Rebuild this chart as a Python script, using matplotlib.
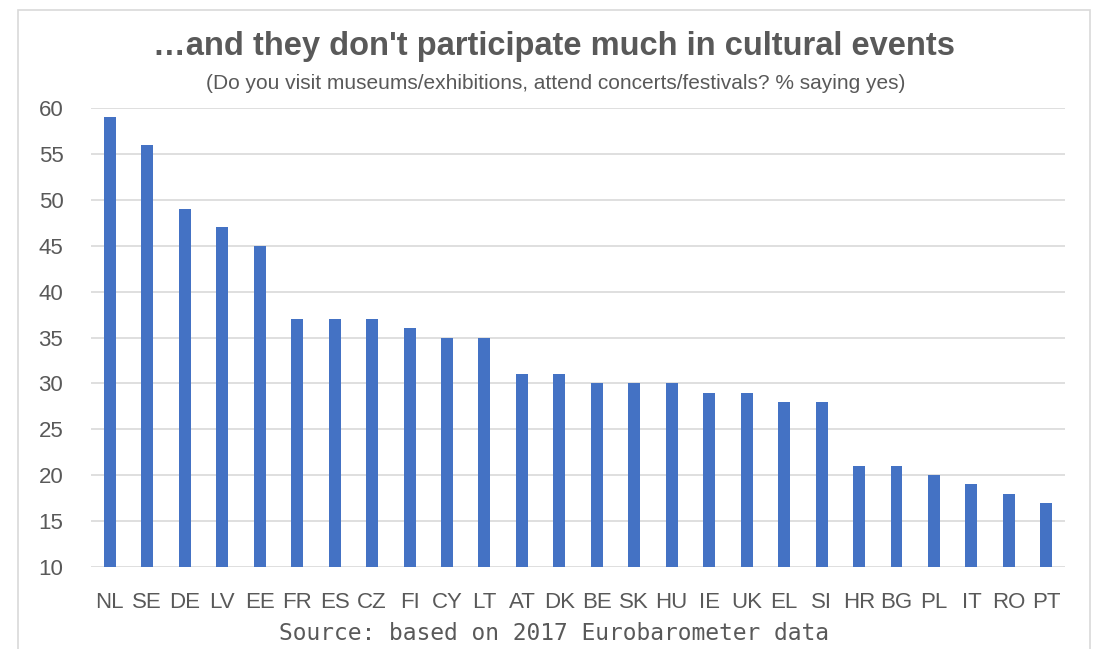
import matplotlib.pyplot as plt
from matplotlib.patches import Rectangle

countries = ["NL", "SE", "DE", "LV", "EE", "FR", "ES", "CZ", "FI", "CY", "LT", "AT", "DK",
             "BE", "SK", "HU", "IE", "UK", "EL", "SI", "HR", "BG", "PL", "IT", "RO", "PT"]
share_yes = [59, 56, 49, 47, 45, 37, 37, 37, 36, 35, 35, 31, 31,
             30, 30, 30, 29, 29, 28, 28, 21, 21, 20, 19, 18, 17]
yticks = [10, 15, 20, 25, 30, 35, 40, 45, 50, 55, 60]

plt.rcParams['font.family'] = ['Liberation Sans', 'DejaVu Sans']
grey = "#595959"

fig = plt.figure(figsize=(10.98, 6.49), dpi=100)
ax = fig.add_axes([0.083, 0.1263, 0.887, 0.7073])

# outer frame of the chart box
fig.patches.append(Rectangle((0.0165, -0.05), 0.976, 1.035, transform=fig.transFigure,
                             fill=False, edgecolor="#d9d9d9", linewidth=1.2))

x = range(len(countries))
ax.bar(x, share_yes, width=0.32, color="#4472C4", zorder=3)
ax.set_xlim(-0.5, len(countries) - 0.5)
ax.set_ylim(10, 60)
ax.set_yticks(yticks)
ax.set_xticks(list(x))
ax.set_xticklabels(countries)
ax.grid(axis="y", color="#d9d9d9", linewidth=1.2, zorder=0)
for s in ax.spines.values():
    s.set_visible(False)
ax.tick_params(length=0, labelsize=16, colors=grey)
ax.tick_params(axis="y", pad=20)
ax.tick_params(axis="x", pad=18)

fig.text(0.505, 0.928, "\u2026and they don't participate much in cultural events",
         ha="center", va="center", fontsize=23.5, fontweight="bold", color=grey)
fig.text(0.506, 0.871, "(Do you visit museums/exhibitions, attend concerts/festivals? % saying yes)",
         ha="center", va="center", fontsize=15, color=grey)
fig.text(0.505, 0.024, "Source: based on 2017 Eurobarometer data",
         ha="center", va="center", fontsize=16.5, color=grey, family="DejaVu Sans Mono")

fig.savefig("out.png", dpi=100)
